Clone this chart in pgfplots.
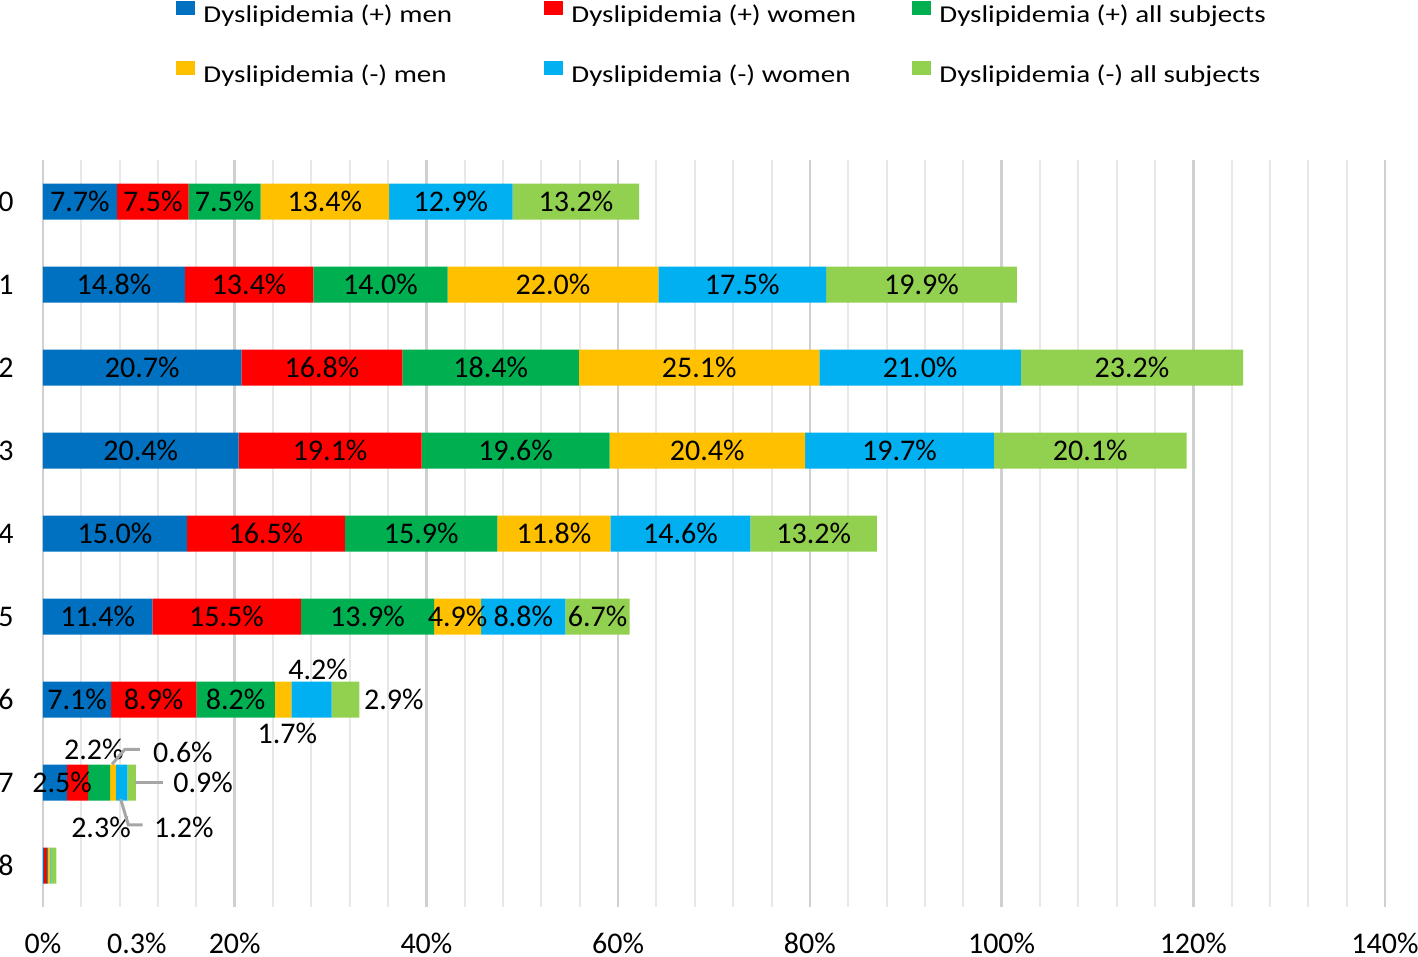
\documentclass[border=0pt]{standalone}
\usepackage{fontspec}
\setmainfont{Carlito}
\newfontfamily\legfont[FakeStretch=1.2]{Carlito}
\usepackage{pgfplots}
\usepackage{pgfplotstable}
\pgfplotsset{compat=1.18}
\definecolor{c1}{HTML}{0070C0}
\definecolor{c2}{HTML}{FF0000}
\definecolor{c3}{HTML}{00B050}
\definecolor{c4}{HTML}{FFC000}
\definecolor{c5}{HTML}{00B0F0}
\definecolor{c6}{HTML}{92D050}
\definecolor{majg}{HTML}{D0D0D0}
\definecolor{ming}{HTML}{E8E8E8}
\definecolor{lead}{HTML}{A6A6A6}

\pgfplotstableread{
cat a b c d e f
0 7.7 7.5 7.5 13.4 12.9 13.2
1 14.8 13.4 14.0 22.0 17.5 19.9
2 20.7 16.8 18.4 25.1 21.0 23.2
3 20.4 19.1 19.6 20.4 19.7 20.1
4 15.0 16.5 15.9 11.8 14.6 13.2
5 11.4 15.5 13.9 4.9 8.8 6.7
6 7.1 8.9 8.2 1.7 4.2 2.9
7 2.5 2.2 2.3 0.6 1.2 0.9
8 0.1 0.3 0.1 0.2 0.1 0.6
}\data

\newcommand{\lf}{\fontsize{15}{18}\selectfont}

\pgfplotsset{
  lab/.style={
    visualization depends on=rawx \as \rawx,
    visualization depends on=rawy \as \rawy,
    nodes near coords={\ifdim\rawy pt<#1pt\relax\pgfmathprintnumber[fixed,fixed zerofill,precision=1,assume math mode=true]{\rawx}\%\fi},
    every node near coord/.append style={anchor=center, font=\lf, text=black},
  },
  sq/.style={draw=none, fill=#1,
    legend image code/.code={\fill[##1] (0pt,0.5pt) rectangle (9.5pt,7.5pt);}},
}

\begin{document}
\begin{tikzpicture}
\path[use as bounding box] (-21.5pt,-25pt) rectangle (687.5pt,453.5pt);
\begin{axis}[
  at={(0pt,0pt)}, anchor=south west,
  scale only axis, width=671pt, height=373.5pt,
  xbar stacked, bar width=18pt,
  xmin=0, xmax=140, ymin=-0.5, ymax=8.5, y dir=reverse,
  clip=false,
  xtick={0,20,...,140}, minor x tick num=4,
  ytick={0,...,8},
  xticklabel={\pgfmathprintnumber{\tick}\%},
  extra x ticks={9.8}, extra x tick labels={0.3\%},
  extra x tick style={grid=none},
  /pgf/number format/assume math mode=true,
  tick label style={font=\lf, inner sep=0pt},
  xticklabel style={yshift=-13pt},
  yticklabel style={xshift=-14.5pt},
  major tick length=0pt, minor tick length=0pt,
  axis line style={draw=none},
  xmajorgrids, xminorgrids,
  major grid style={draw=majg, line width=1.3pt},
  minor grid style={draw=ming, line width=1pt},
  legend columns=3,
  legend cell align=left,
  legend style={draw=none, fill=none, at={(0.0991,1.2128)}, anchor=north west,
    inner sep=0pt, column sep=0pt, row sep=17pt,
    font=\legfont\fontsize{12.1}{13}\selectfont,
    nodes={inner sep=0pt, text height=8.5pt, text depth=2.5pt}},
]
\addplot[sq=c1, lab=6.5] table[x=a, y=cat] {\data};
\addlegendentry{\hspace{4pt}\makebox[170.5pt][l]{Dyslipidemia (+) men}}
\addplot[sq=c2, lab=6.5] table[x=b, y=cat] {\data};
\addlegendentry{\hspace{4pt}\makebox[170.5pt][l]{Dyslipidemia (+) women}}
\addplot[sq=c3, lab=6.5] table[x=c, y=cat] {\data};
\addlegendentry{\hspace{4pt}\makebox[170.5pt][l]{Dyslipidemia (+) all subjects}}
\addplot[sq=c4, lab=5.5] table[x=d, y=cat] {\data};
\addlegendentry{\hspace{4pt}\makebox[170.5pt][l]{Dyslipidemia (-) men}}
\addplot[sq=c5, lab=5.5] table[x=e, y=cat] {\data};
\addlegendentry{\hspace{4pt}\makebox[170.5pt][l]{Dyslipidemia (-) women}}
\addplot[sq=c6, lab=5.5] table[x=f, y=cat] {\data};
\addlegendentry{\hspace{4pt}\makebox[170.5pt][l]{Dyslipidemia (-) all subjects}}

% anchor points for the outside labels of small segments
\coordinate (l42) at (axis cs:28.7,5.64);
\coordinate (l17) at (axis cs:25.5,6.41);
\coordinate (l29) at (axis cs:36.6,6.0);
\coordinate (l25) at (axis cs:2.0,7.0);
\coordinate (l22) at (axis cs:5.3,6.60);
\coordinate (l06) at (axis cs:14.6,6.64);
\coordinate (l09) at (axis cs:16.7,7.0);
\coordinate (l23) at (axis cs:6.05,7.54);
\coordinate (l12) at (axis cs:14.7,7.54);
\coordinate (a1) at (axis cs:7.2,6.78);
\coordinate (a2) at (axis cs:8.55,6.60);
\coordinate (a3) at (axis cs:10.1,6.60);
\coordinate (b1) at (axis cs:9.6,7.0);
\coordinate (b2) at (axis cs:12.5,7.0);
\coordinate (c1) at (axis cs:8.1,7.2);
\coordinate (c2) at (axis cs:8.9,7.51);
\coordinate (c3) at (axis cs:10.4,7.51);
\end{axis}
\node[font=\lf] at (l42) {4.2\%};
\node[font=\lf] at (l17) {1.7\%};
\node[font=\lf] at (l29) {2.9\%};
\node[font=\lf] at (l25) {2.5\%};
\node[font=\lf] at (l22) {2.2\%};
\node[font=\lf] at (l06) {0.6\%};
\node[font=\lf] at (l09) {0.9\%};
\node[font=\lf] at (l23) {2.3\%};
\node[font=\lf] at (l12) {1.2\%};
\draw[lead, line width=1.5pt] (a1) -- (a2) -- (a3);
\draw[lead, line width=1.5pt] (b1) -- (b2);
\draw[lead, line width=1.5pt] (c1) -- (c2) -- (c3);
\end{tikzpicture}
\end{document}
